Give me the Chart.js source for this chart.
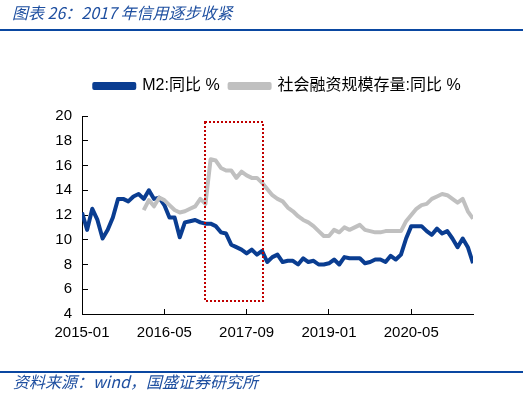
<!DOCTYPE html>
<html><head><meta charset="utf-8">
<script src="https://cdn.jsdelivr.net/npm/chart.js@4"></script>
<style>
html,body{margin:0;padding:0;background:#fff;}
#wrap{position:relative;width:523px;height:398px;overflow:hidden;background:#fff;}
#title{position:absolute;left:12px;top:2px;font-family:"Noto Sans CJK SC",sans-serif;font-style:italic;font-size:16px;line-height:20px;color:#1E4FA0;white-space:nowrap;}
#src{position:absolute;left:13px;top:371px;font-family:"Noto Sans CJK SC",sans-serif;font-style:italic;font-size:16px;line-height:20px;color:#1E4FA0;white-space:nowrap;}
.rule{position:absolute;left:0;width:523px;height:2px;background:#0A47A1;}
canvas{position:absolute;left:0;top:0;}
</style></head>
<body><div id="wrap">
<canvas id="c" width="523" height="398"></canvas>
<div id="title">图表 26：2017 年信用逐步收紧</div>
<div class="rule" style="top:29px"></div>
<div class="rule" style="top:371px"></div>
<div id="src">资料来源：wind，国盛证券研究所</div>
</div>
<script>
const months = ['2015-01','2015-02','2015-03','2015-04','2015-05','2015-06','2015-07','2015-08','2015-09','2015-10','2015-11','2015-12',
'2016-01','2016-02','2016-03','2016-04','2016-05','2016-06','2016-07','2016-08','2016-09','2016-10','2016-11','2016-12',
'2017-01','2017-02','2017-03','2017-04','2017-05','2017-06','2017-07','2017-08','2017-09','2017-10','2017-11','2017-12',
'2018-01','2018-02','2018-03','2018-04','2018-05','2018-06','2018-07','2018-08','2018-09','2018-10','2018-11','2018-12',
'2019-01','2019-02','2019-03','2019-04','2019-05','2019-06','2019-07','2019-08','2019-09','2019-10','2019-11','2019-12',
'2020-01','2020-02','2020-03','2020-04','2020-05','2020-06','2020-07','2020-08','2020-09','2020-10','2020-11','2020-12',
'2021-01','2021-02','2021-03','2021-04','2021-05'];
const tickLabels = ['2015-01','2016-05','2017-09','2019-01','2020-05'];
const seriesNames = ['M2:同比 %','社会融资规模存量:同比 %'];
const m2 = [12.2,10.8,12.5,11.6,10.1,10.8,11.8,13.3,13.3,13.1,13.5,13.7,
13.3,14.0,13.3,13.4,12.8,11.8,11.8,10.2,11.4,11.5,11.6,11.4,
11.3,11.3,11.1,10.6,10.5,9.6,9.4,9.2,8.9,9.2,8.8,9.1,
8.2,8.6,8.8,8.2,8.3,8.3,8.0,8.5,8.2,8.3,8.0,8.0,
8.1,8.4,8.0,8.6,8.5,8.5,8.5,8.1,8.2,8.4,8.4,8.2,
8.7,8.4,8.8,10.1,11.1,11.1,11.1,10.7,10.4,10.9,10.5,10.7,
10.1,9.4,10.1,9.4,8.1];
const tsf = [null,null,null,null,null,null,null,null,null,null,null,null,
12.4,13.2,12.7,13.4,13.2,12.8,12.4,12.2,12.3,12.5,12.7,13.3,
12.9,16.5,16.4,15.8,15.6,15.6,15.0,15.5,15.2,15.0,15.0,14.6,
14.1,13.6,13.3,13.1,12.6,12.3,11.9,11.6,11.4,11.1,10.7,10.3,
10.3,10.8,10.6,11.0,10.8,11.0,11.2,10.8,10.7,10.6,10.6,10.7,
10.7,10.7,10.7,11.5,12.0,12.5,12.8,12.9,13.3,13.5,13.7,13.6,
13.3,13.0,13.3,12.3,11.7];
const yTicks = [4,20,2];            // min, max, step
const highlightX = [24, 35.2];      // month index range of the dotted box
const highlightY = [5, 19.5];       // value range of the dotted box

const toPts = arr => arr.map((v,i)=>v===null?null:{x:i,y:v}).filter(p=>p);
const BLUE='#0A3D91', GRAY='#C0C0C0';
const FONT='"Liberation Sans","Noto Sans CJK SC",sans-serif';

const legendGap = {
  id:'legendGap',
  beforeLayout(chart){
    const lg = chart.legend;
    if (lg && !lg._gapPatched){
      const f = lg.fit;
      lg.fit = function(){ f.call(this); this.height += 12; };
      lg._gapPatched = true;
    }
  }
};
const boxPlugin = {
  id:'box',
  afterDatasetsDraw(chart){
    const xs=chart.scales.x, ys=chart.scales.y, ctx=chart.ctx;
    const x1=xs.getPixelForValue(highlightX[0]), x2=xs.getPixelForValue(highlightX[1]);
    const y1=ys.getPixelForValue(highlightY[1]), y2=ys.getPixelForValue(highlightY[0]);
    ctx.save();
    ctx.strokeStyle='#C00000'; ctx.lineWidth=2; ctx.setLineDash([2,2]);
    ctx.strokeRect(Math.round(x1), Math.round(y1), Math.round(x2-x1), Math.round(y2-y1));
    ctx.restore();
  }
};

new Chart(document.getElementById('c'), {
  type:'line',
  data:{datasets:[
    {label:seriesNames[0], data:toPts(m2), borderColor:BLUE, backgroundColor:BLUE, borderWidth:4, pointRadius:0, tension:0, borderJoinStyle:'round', order:1},
    {label:seriesNames[1], data:toPts(tsf), borderColor:GRAY, backgroundColor:GRAY, borderWidth:4, pointRadius:0, tension:0, borderJoinStyle:'round', order:0}
  ]},
  options:{
    responsive:false, animation:false, devicePixelRatio:1,
    layout:{padding:{left:22,right:50,top:68,bottom:44}},
    plugins:{
      tooltip:{enabled:false},
      legend:{position:'top',align:'center',fullSize:false,
        labels:{boxWidth:40,boxHeight:4,padding:10,color:'#000',font:{size:16,family:FONT},
          sort:(a,b)=>a.datasetIndex-b.datasetIndex}}
    },
    scales:{
      x:{type:'linear',min:0,max:months.length-1,
        afterFit(s){s.height=40;},
        ticks:{stepSize:16,includeBounds:false,autoSkip:false,maxRotation:0,padding:15,color:'#000',font:{size:15,family:FONT},
          callback:(v)=>{const l=months[v];return tickLabels.includes(l)?l:null;}},
        grid:{drawOnChartArea:false,drawTicks:true,tickLength:-5,color:'#000',lineWidth:1},
        border:{color:'#000',width:1}},
      y:{min:yTicks[0],max:yTicks[1],
        afterFit(s){s.width=60;},
        ticks:{stepSize:yTicks[2],padding:16,color:'#000',font:{size:15,family:FONT}},
        grid:{drawOnChartArea:false,drawTicks:true,tickLength:-6,color:'#000',lineWidth:1},
        border:{color:'#000',width:1}}
    }
  },
  plugins:[legendGap, boxPlugin]
});
</script>
</body></html>
